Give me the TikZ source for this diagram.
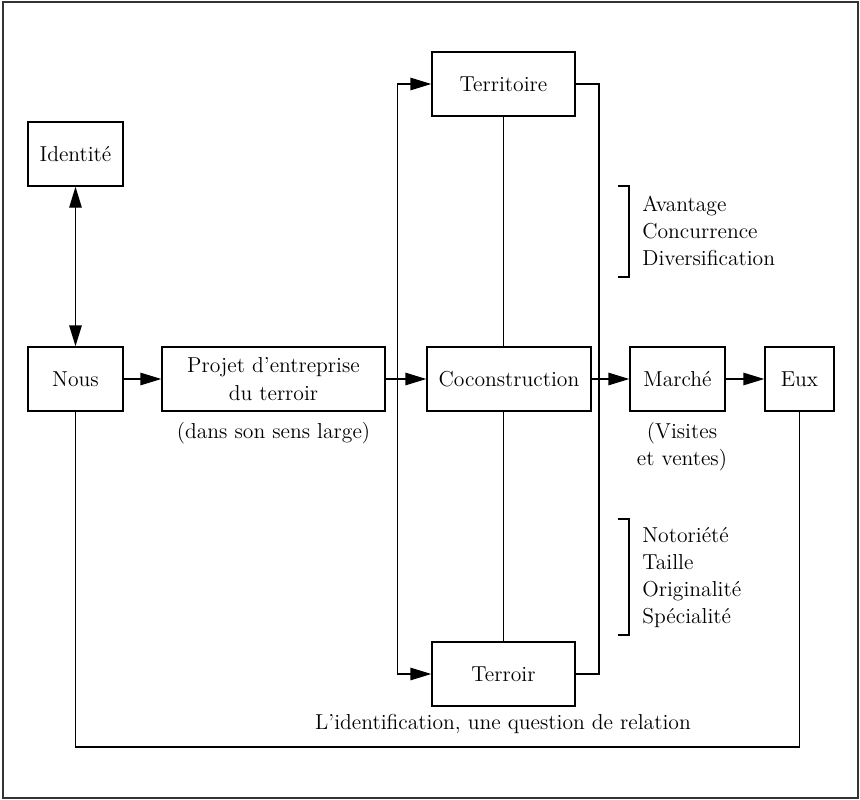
\documentclass[tikz,border=0pt]{standalone}
\usepackage{tikz}
\usetikzlibrary{arrows.meta}
\usetikzlibrary{positioning}

\begin{document}
\begin{tikzpicture}[
    box/.style={draw, line width=0.8pt, minimum height=1.28cm, inner sep=0pt,
      align=center, font=\fontsize{12.3}{15.5}\selectfont},
    link/.style={line width=0.8pt, -{Triangle[length=4.2mm, width=2.5mm]}},
    note/.style={align=left, inner sep=0pt, font=\fontsize{12.3}{15.5}\selectfont},
  ]
  \useasboundingbox (0, -8.4) rectangle (17.2, 7.58);
  \draw [line width=0.6pt, black!80] (0.06, -8.38) rectangle (17.16, 7.54);

  % main row
  \node (nous) [box, minimum width=1.9cm] at (1.51, 0) {Nous};
  \node (identite) [box, minimum width=1.9cm] at (1.51, 4.5) {Identité};
  \node (projet) [box, minimum width=4.46cm] at (5.47, 0) {Projet d'entreprise\\du terroir};
  \node (coco) [box, minimum width=3.28cm] at (10.18, 0) {Coconstruction};
  \node (marche) [box, minimum width=1.9cm] at (13.55, 0) {Marché};
  \node (eux) [box, minimum width=1.38cm] at (15.99, 0) {Eux};

  \node (territoire) [box, minimum width=2.86cm] at (10.07, 5.9) {Territoire};
  \node (terroir) [box, minimum width=2.86cm] at (10.07, -5.9) {Terroir};

  \node (sens) [note, align=center] at (5.47, -1.08) {(dans son sens large)};
  \node (visites) [note, align=center] at (13.64, -1.35) {(Visites\\et ventes)};
  \node (relation) [note] at (10.06, -6.9) {L'identification, une question de relation};

  \node (atouts) [note, anchor=west] at (12.84, 2.96) {Avantage\\Concurrence\\Diversification};
  \node (traits) [note, anchor=west] at (12.84, -3.97) {Notoriété\\Taille\\Originalité\\Spécialité};

  \coordinate (split) at (7.95, 0);
  \coordinate (merge) at (11.98, 0);
  \coordinate (loop) at (0, -7.36);

  \draw [link, {Triangle[length=4.2mm, width=2.5mm]}-{Triangle[length=4.2mm, width=2.5mm]}]
    (identite) -- (nous);
  \draw [link] (nous) -- (projet);
  \draw [link] (projet) -- (coco);
  \draw [link] (coco) -- (marche);
  \draw [link] (marche) -- (eux);

  \draw [link] (split) |- (territoire);
  \draw [link] (split) |- (terroir);
  \draw [line width=0.8pt] (territoire.east) -| (merge) |- (terroir.east);

  \draw [line width=0.8pt] (territoire.south) -- (territoire.south |- coco.north);
  \draw [line width=0.8pt] (terroir.north |- coco.south) -- (terroir.north);

  \draw [line width=0.8pt] (nous.south) -- (nous.south |- loop) -| (eux.south);

  % brackets
  \draw [line width=0.8pt] (12.36, 3.86) -- (12.58, 3.86) -- (12.58, 2.04) -- (12.36, 2.04);
  \draw [line width=0.8pt] (12.36, -2.8) -- (12.58, -2.8) -- (12.58, -5.12) -- (12.36, -5.12);
\end{tikzpicture}
\end{document}
